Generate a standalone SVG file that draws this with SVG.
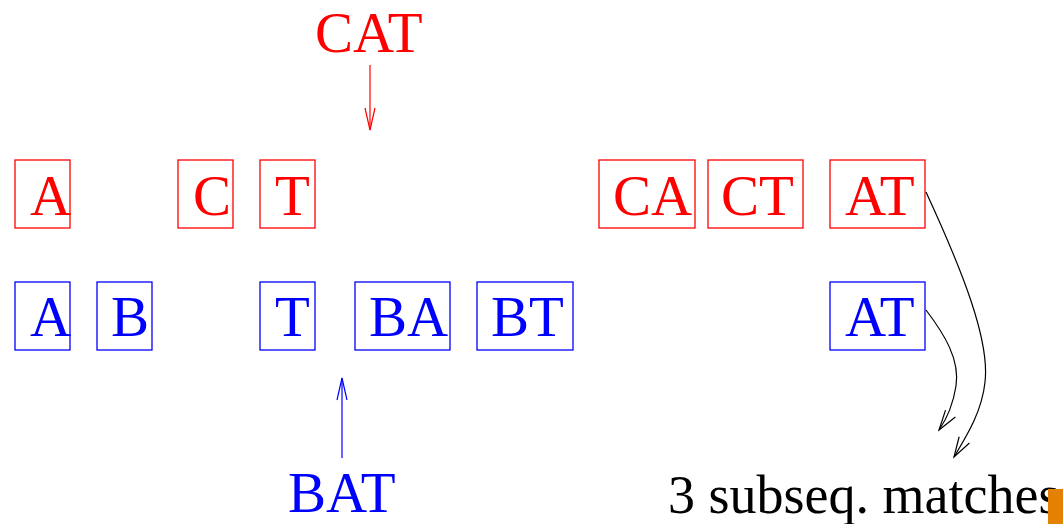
<svg xmlns="http://www.w3.org/2000/svg" width="1063" height="524" viewBox="0 0 1063 524">
  <defs>
    <style>
      .lbl { font-family: "Liberation Serif", "Times New Roman", serif; font-size: 57px; }
      .red rect { fill: none; stroke: #ff0000; stroke-width: 1.3; }
      .red text { fill: #ff0000; }
      .blue rect { fill: none; stroke: #0000ff; stroke-width: 1.3; }
      .blue text { fill: #0000ff; }
    </style>
    <marker id="headRed" viewBox="-24 -7 26 14" markerWidth="26" markerHeight="14" refX="0" refY="0" orient="auto" markerUnits="userSpaceOnUse">
      <path d="M-22,-5 L0,0 L-22,5" fill="none" stroke="#ff0000" stroke-width="1.2"/>
    </marker>
    <marker id="headBlue" viewBox="-24 -7 26 14" markerWidth="26" markerHeight="14" refX="0" refY="0" orient="auto" markerUnits="userSpaceOnUse">
      <path d="M-22,-5 L0,0 L-22,5" fill="none" stroke="#0000ff" stroke-width="1.2"/>
    </marker>
    <marker id="headBlack" viewBox="-24 -8 26 16" markerWidth="26" markerHeight="16" refX="0" refY="0" orient="auto" markerUnits="userSpaceOnUse">
      <path d="M-20,-6 L0,0 L-20,6" fill="none" stroke="#000000" stroke-width="1.2"/>
    </marker>
  </defs>

  <rect width="1063" height="524" fill="#ffffff"/>

  <!-- input strings -->
  <g id="word-cat" class="red lbl">
    <text x="315" y="52">CAT</text>
  </g>
  <g id="word-bat" class="blue lbl">
    <text x="288" y="512">BAT</text>
  </g>
  <g id="result" class="lbl">
    <text x="668" y="513" fill="#000000" style="font-size:54px">3 subseq. matches</text>
  </g>

  <!-- subsequences of CAT -->
  <g id="cat-A" class="red lbl"><rect x="15" y="160" width="55" height="68"/><text x="30" y="215">A</text></g>
  <g id="cat-C" class="red lbl"><rect x="178" y="160" width="55" height="68"/><text x="193" y="215">C</text></g>
  <g id="cat-T" class="red lbl"><rect x="260" y="160" width="55" height="68"/><text x="275" y="215">T</text></g>
  <g id="cat-CA" class="red lbl"><rect x="599" y="160" width="96" height="68"/><text x="613" y="215">CA</text></g>
  <g id="cat-CT" class="red lbl"><rect x="708" y="160" width="95" height="68"/><text x="721" y="215">CT</text></g>
  <g id="cat-AT" class="red lbl"><rect x="830" y="160" width="95" height="68"/><text x="845" y="215">AT</text></g>

  <!-- subsequences of BAT -->
  <g id="bat-A" class="blue lbl"><rect x="15" y="282" width="55" height="68"/><text x="30" y="336">A</text></g>
  <g id="bat-B" class="blue lbl"><rect x="97" y="282" width="55" height="68"/><text x="111" y="336">B</text></g>
  <g id="bat-T" class="blue lbl"><rect x="260" y="282" width="55" height="68"/><text x="275" y="336">T</text></g>
  <g id="bat-BA" class="blue lbl"><rect x="355" y="282" width="95" height="68"/><text x="369" y="336">BA</text></g>
  <g id="bat-BT" class="blue lbl"><rect x="477" y="282" width="96" height="68"/><text x="491" y="336">BT</text></g>
  <g id="bat-AT" class="blue lbl"><rect x="830" y="282" width="95" height="68"/><text x="845" y="336">AT</text></g>

  <!-- connectors -->
  <g id="connectors" fill="none" stroke-width="1.2">
    <path d="M370,65 L370,130" stroke="#ff0000" marker-end="url(#headRed)"/>
    <path d="M342,458 L342,378" stroke="#0000ff" marker-end="url(#headBlue)"/>
    <path d="M926,192 C962,270 990,340 985,382 C982,412 966,437 954,457" stroke="#000000" marker-end="url(#headBlack)"/>
    <path d="M926,310 C945,335 960,360 956,386 C953,405 946,420 939,430" stroke="#000000" marker-end="url(#headBlack)"/>
  </g>

  <!-- corner tab -->
  <rect x="1048" y="489" width="15" height="35" fill="#e68000"/>
</svg>
